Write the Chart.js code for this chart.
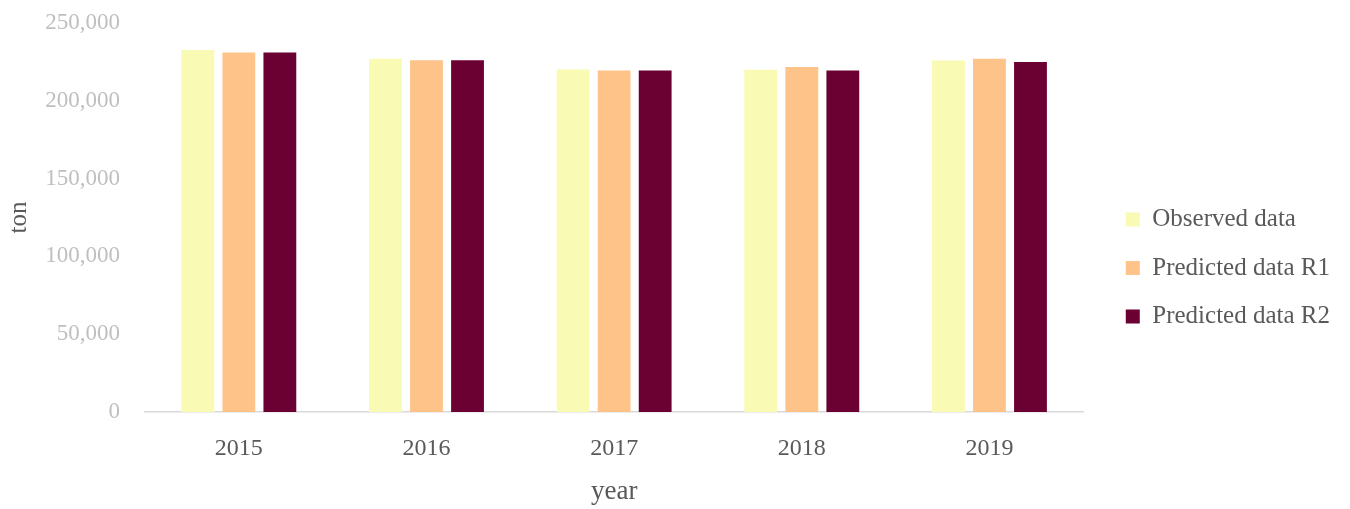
<!DOCTYPE html>
<html>
<head>
<meta charset="utf-8">
<script src="https://cdn.jsdelivr.net/npm/chart.js@4"></script>
<style>
html,body{margin:0;padding:0;background:#fff;}
#wrap{width:1350px;height:509px;}
</style>
</head>
<body>
<div id="wrap"><canvas id="c" width="1350" height="509"></canvas></div>
<script>
const categories = ['2015', '2016', '2017', '2018', '2019'];
const observedData = [232700, 227000, 220100, 220000, 225900];
const predictedR1 = [231000, 226100, 219500, 221800, 227000];
const predictedR2 = [231000, 226000, 219500, 219500, 225000];
const seriesNames = ['Observed data', 'Predicted data R1', 'Predicted data R2'];
const yTicks = [0, 50000, 100000, 150000, 200000, 250000];

const FONT = "'Liberation Serif', 'DejaVu Serif', serif";

// nudge the legend block to sit where the original places it
const legendNudge = {
  id: 'legendNudge',
  afterLayout(chart) {
    const lg = chart.legend;
    if (!lg) return;
    const dx = 19, dy = 2;
    lg.left += dx; lg.right += dx;
    lg.top += dy; lg.bottom += dy;
  }
};

new Chart(document.getElementById('c'), {
  type: 'bar',
  data: {
    labels: categories,
    datasets: [
      { label: seriesNames[0], data: observedData, backgroundColor: '#f9fab3' },
      { label: seriesNames[1], data: predictedR1, backgroundColor: '#fec388' },
      { label: seriesNames[2], data: predictedR2, backgroundColor: '#6b0032' }
    ]
  },
  plugins: [legendNudge],
  options: {
    responsive: false,
    animation: false,
    datasets: { bar: { categoryPercentage: 0.656, barPercentage: 0.8 } },
    layout: { padding: { top: 23, right: 29, left: 0, bottom: 0 } },
    plugins: {
      tooltip: { enabled: false },
      legend: {
        position: 'right',
        labels: {
          boxWidth: 14, boxHeight: 14, padding: 23.5,
          color: '#595959',
          font: { family: FONT, size: 25 }
        }
      }
    },
    scales: {
      x: {
        grid: { display: false },
        border: { color: '#d9d9d9', width: 1.5 },
        ticks: { color: '#595959', font: { family: FONT, size: 24 }, padding: 14 },
        title: { display: true, text: 'year', color: '#595959', font: { family: FONT, size: 27 }, padding: { top: 0, bottom: 1 } },
        afterFit: (axis) => { axis.height = 97; }
      },
      y: {
        min: 0, max: 250000,
        afterBuildTicks: (axis) => { axis.ticks = yTicks.map(v => ({ value: v })); },
        grid: { display: false },
        border: { display: false },
        ticks: {
          color: '#bfbfbf', font: { family: FONT, size: 23 }, padding: 17,
          callback: (v) => Number(v).toLocaleString('en-US')
        },
        title: { display: true, text: 'ton', color: '#595959', font: { family: FONT, size: 25 }, padding: { top: 4, bottom: 0 } },
        afterFit: (axis) => { axis.width = 145; axis.paddingTop = 0; axis.paddingBottom = 0; }
      }
    }
  }
});
</script>
</body>
</html>
